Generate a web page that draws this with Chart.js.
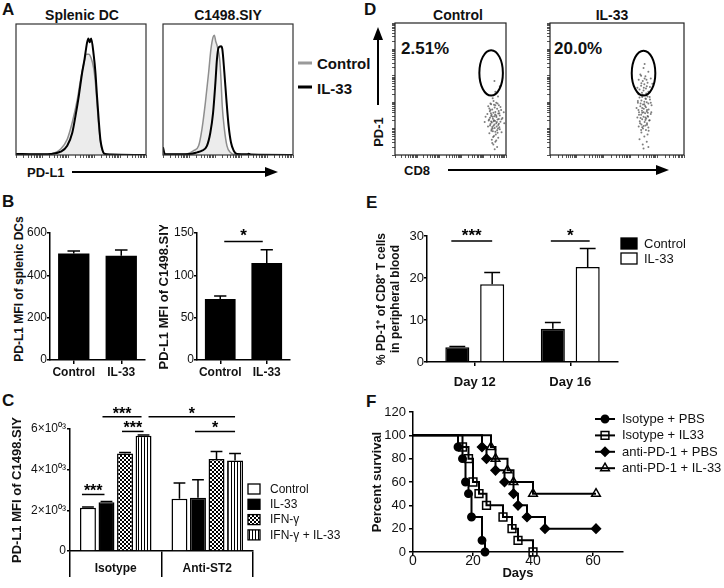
<!DOCTYPE html>
<html>
<head>
<meta charset="utf-8">
<script src="https://cdn.jsdelivr.net/npm/chart.js@4.4.1/dist/chart.umd.min.js"></script>
<style>
  body { margin: 0; background: #fff; }
  #fig { position: relative; width: 724px; height: 588px; overflow: hidden; font-family: "Liberation Sans", Arial, sans-serif; color: #111; }
  #fig canvas { position: absolute; }
  .t { position: absolute; white-space: nowrap; line-height: 1; }
</style>
</head>
<body>
<div id="fig">
  <svg width="724" height="588" style="position:absolute;left:0;top:0">
    <line x1="72" y1="172" x2="266" y2="172" stroke="#000" stroke-width="2"/>
    <polygon points="265,167 278,172 265,177" fill="#000"/>
    <line x1="448" y1="170" x2="657" y2="170" stroke="#000" stroke-width="2"/>
    <polygon points="656,165 669,170 656,175" fill="#000"/>
    <line x1="378" y1="105" x2="378" y2="39" stroke="#000" stroke-width="2"/>
    <polygon points="373,40 378,27 383,40" fill="#000"/>
    <rect x="298" y="61.5" width="14" height="3" fill="#9a9a9a"/>
    <rect x="298" y="85.5" width="14" height="3" fill="#000"/>
  </svg>
</div>
<script>
// ======================= DATA =========================
// A: PD-L1 histograms (x = channel 0-100, y = % of max)
const hDcCtrlX = [0, 24, 29.3, 34.4, 39.4, 43.3, 47.1, 49.6, 52.2, 54.2, 56, 57.8, 59.8, 61.1, 62.3, 63.6, 64.9, 66.2, 67.9, 72.5, 100];
const hDcCtrlY = [0.5, 0.5, 1.5, 4.5, 12, 25, 42, 57, 70, 77, 77, 74, 66, 55, 40, 23, 10, 4, 1, 0.3, 0];
const hDcIl33X = [0, 14, 26.7, 34.4, 39.4, 43.3, 45.8, 48.3, 50.9, 52.7, 54.7, 55.7, 56.7, 57.8, 59.8, 61.1, 62.3, 63.6, 64.9, 66.2, 67.9, 72.5, 100];
const hDcIl33Y = [0.8, 0.5, 0.8, 2.5, 7, 17, 30, 45, 63, 73, 86, 89, 86, 89, 76, 63, 45, 27, 12, 5, 1, 0.3, 0];
const hTuCtrlX = [0, 13.3, 18.5, 23.6, 27.4, 30, 32.6, 35.1, 36.9, 38.5, 39.5, 40.5, 42, 43.6, 44.6, 45.6, 47.2, 49.2, 51.8, 55.6, 100];
const hTuCtrlY = [0.5, 0.5, 0.8, 3.3, 7, 20, 40, 63, 81, 90, 91.5, 87, 82, 73, 58, 37, 20, 7, 2, 0.3, 0];
const hTuIl33X = [0, 1.5, 21, 26.2, 30, 33.8, 36.4, 38.5, 40.3, 41.5, 42.8, 44.6, 45.6, 47.2, 48.7, 50.5, 52.3, 54.4, 56.9, 64.6, 65.9, 67.7, 100];
const hTuIl33Y = [6, 0.5, 0.8, 2, 3.3, 7, 17, 32, 55, 73, 82, 83, 81, 63, 43, 22, 9.5, 3.3, 0.8, 0.5, 1, 0.3, 0];

// B: PD-L1 MFI
const bLabels = ['Control', 'IL-33'];
const bDcMfi = [503, 492];
const bDcSem = [12, 28];
const bTuMfi = [72, 114.6];
const bTuSem = [3.5, 15.5];
const bDcTicks = [0, 200, 400, 600];
const bTuTicks = [0, 50, 100, 150];

// C: PD-L1 MFI of C1498.SIY, isotype vs anti-ST2
const cGroups = ['Isotype', 'Anti-ST2'];
const cSeries = ['Control', 'IL-33', 'IFN-γ', 'IFN-γ + IL-33'];
const cControl = [2130, 2570];
const cIL33 = [2400, 2620];
const cIFNg = [4800, 4530];
const cIFNgIL33 = [5670, 4450];
const cControlSem = [30, 770];
const cIL33Sem = [40, 880];
const cIFNgSem = [40, 360];
const cIFNgIL33Sem = [30, 350];
const cTicks = [0, 2000, 4000, 6000];
const cTickLabels = ['0', '2×10⁰³', '4×10⁰³', '6×10⁰³'];

// D: PD-1 vs CD8 dot plots (log decades 0-5)
const dTitles = ['Control', 'IL-33'];
const dPercents = ['2.51%', '20.0%'];
const dotsCtrl = [
  [4.44,2.05],[4.56,1.98],[4.33,1.92],[4.68,1.88],[4.20,1.85],[4.49,1.80],[4.60,1.75],[4.38,1.72],[4.78,1.70],[4.27,1.66],
  [4.52,1.63],[4.43,1.60],[4.65,1.57],[4.16,1.55],[4.35,1.52],[4.72,1.50],[4.48,1.47],[4.57,1.44],[4.28,1.41],[4.84,1.40],
  [4.41,1.37],[4.62,1.34],[4.22,1.31],[4.51,1.29],[4.75,1.26],[4.36,1.23],[4.56,1.20],[4.30,1.17],[4.65,1.14],[4.44,1.11],
  [4.19,1.08],[4.70,1.05],[4.49,1.02],[4.35,0.98],[4.60,0.94],[4.41,0.90],[4.80,0.86],[4.25,0.82],[4.54,0.78],[4.46,0.72],
  [4.65,0.65],[4.36,0.58],[4.52,0.50],[4.43,0.40],[4.60,0.30],[4.49,0.22],[4.40,2.15],[4.64,2.22],[4.52,2.40],[4.72,2.60],
  [4.48,2.80],[4.90,1.62],[4.08,1.45],[4.92,1.20],[4.04,1.25],[4.46,1.90],[4.67,1.67],[4.32,1.58],[4.51,1.53],[4.40,1.45],
  [4.68,1.36],[4.46,1.32],[4.33,1.27],[4.59,1.25],[4.48,1.16],[4.38,1.06],[4.64,1.00],[4.52,0.88],[4.30,1.70],[4.75,1.82],
  [4.30,1.95],[4.62,1.95],[4.52,1.88],[4.25,1.76],[4.70,1.58],[4.56,1.50],[4.33,1.48],[4.80,1.35],[4.24,1.34],[4.44,1.28],
  [4.68,1.18],[4.28,1.12],[4.58,1.08],[4.40,1.00],[4.72,0.98],[4.34,0.92],[4.62,0.84],[4.42,0.68],[4.56,0.55],[4.38,0.45]
];
const dotsIl33 = [
  [3.49,3.30],[3.67,3.15],[3.37,3.05],[3.56,2.98],[3.76,2.90],[3.31,2.85],[3.46,2.80],[3.64,2.74],[3.52,2.68],[3.40,2.62],
  [3.73,2.58],[3.58,2.52],[3.34,2.48],[3.49,2.44],[3.67,2.40],[3.43,2.36],[3.59,2.33],[3.26,2.55],[3.82,2.70],[3.53,3.45],
  [3.46,2.28],[3.64,2.22],[3.34,2.18],[3.56,2.14],[3.73,2.10],[3.41,2.06],[3.52,2.02],[3.28,1.98],[3.67,1.95],[3.47,1.91],
  [3.79,1.88],[3.37,1.85],[3.58,1.81],[3.23,1.78],[3.50,1.75],[3.68,1.72],[3.43,1.68],[3.61,1.65],[3.32,1.62],[3.55,1.58],
  [3.76,1.55],[3.40,1.52],[3.64,1.48],[3.49,1.45],[3.26,1.42],[3.59,1.38],[3.44,1.35],[3.70,1.31],[3.35,1.28],[3.53,1.25],
  [3.62,1.20],[3.41,1.16],[3.56,1.12],[3.31,1.08],[3.67,1.04],[3.47,1.00],[3.58,0.95],[3.41,0.85],[3.64,0.78],[3.52,0.70],
  [3.34,0.60],[3.61,0.50],[3.46,0.40],[3.67,0.30],[3.49,0.25],[3.53,2.90],[3.41,2.72],[3.61,2.60],[3.50,2.55],[3.44,2.20],
  [3.61,2.00],[3.38,1.95],[3.55,1.86],[3.44,1.78],[3.62,1.70],[3.49,1.62],[3.38,1.40],[3.56,1.33],[3.49,1.10],[3.65,1.60],
  [3.30,2.30],[3.72,2.20],[3.58,2.12],[3.28,2.05],[3.76,1.98],[3.52,1.92],[3.30,1.70],[3.78,1.62],[3.44,1.60],[3.66,1.45],
  [3.32,1.52],[3.56,1.42],[3.72,1.32],[3.36,1.20],[3.62,1.15],[3.44,1.05],[3.68,0.92],[3.40,0.95],[3.60,2.85],[3.40,3.00]
];
const gateCtrl = { cx: 4.33, cy: 3.11, rx: 0.53, ry: 0.86 };
const gateIl33 = { cx: 3.49, cy: 3.10, rx: 0.44, ry: 0.85 };

// E: % PD-1+ of CD8+ T cells
const eLabels = ['Day 12', 'Day 16'];
const eControl = [3.5, 7.9];
const eControlSem = [0.2, 1.5];
const eIL33 = [18.5, 22.6];
const eIL33Sem = [2.8, 4.4];
const eTicks = [0, 10, 20, 30];

// F: survival
const fIsoPbsDays = [0, 15, 16.5, 17.5, 18.5, 19.5, 23, 24];
const fIsoPbsPct = [100, 90, 80, 60, 50, 30, 10, 0];
const fIsoIl33Days = [0, 16.5, 18.5, 20, 22, 24.5, 30, 33, 35, 40];
const fIsoIl33Pct = [100, 90, 80, 60, 50, 40, 30, 20, 10, 0];
const fPd1PbsDays = [0, 23, 24.5, 27.5, 30.5, 33.5, 35, 38, 44, 61];
const fPd1PbsPct = [100, 90, 80, 70, 60, 50, 40, 30, 20, 20];
const fPd1Il33Days = [0, 26, 27.5, 31.5, 33.5, 40, 61];
const fPd1Il33Pct = [100, 90, 80, 70, 60, 50, 50];
const fXTicks = [0, 20, 40, 60];
const fYTicks = [0, 20, 40, 60, 80, 100, 120];

// ======================= UTIL =========================
const fig = document.getElementById('fig');
const FONT = '"Liberation Sans", Arial, sans-serif';
Chart.defaults.font.family = FONT;
Chart.defaults.color = '#111';

const base = {
  animation: false, responsive: false, devicePixelRatio: 1,
  plugins: { legend: { display: false }, tooltip: { enabled: false } }
};

function makeCanvas(x, y, w, h) {
  const c = document.createElement('canvas');
  c.width = w; c.height = h;
  c.style.left = x + 'px'; c.style.top = y + 'px';
  c.style.width = w + 'px'; c.style.height = h + 'px';
  fig.appendChild(c);
  return c;
}

function addText(str, x, y, o = {}) {
  const d = document.createElement('div');
  d.className = 't';
  d.textContent = str;
  d.style.left = x + 'px'; d.style.top = y + 'px';
  d.style.fontSize = (o.size || 13) + 'px';
  d.style.fontWeight = o.bold === false ? 'normal' : 'bold';
  let tf = o.center ? 'translate(-50%,-50%)' : 'translate(0,-50%)';
  if (o.rotate) tf += ' rotate(' + o.rotate + 'deg)';
  d.style.transform = tf;
  fig.appendChild(d);
}

function logTicks(decades, span) {
  const out = [];
  for (let d = 0; d < decades; d++)
    for (let m = 1; m <= 9; m++) out.push(d * span + span * Math.log10(m));
  out.push(decades * span);
  return out;
}

function pts(xs, ys) { return xs.map((x, i) => ({ x, y: ys[i] })); }

// ================== AXES ==================
function yAxis(o) {
  return {
    type: 'linear', min: o.min, max: o.max,
    afterFit: s => { s.width = o.width; },
    afterBuildTicks: s => { s.ticks = o.ticks.map(v => ({ value: v })); },
    border: { display: true, color: '#000', width: 1.5 },
    grid: { drawOnChartArea: false, color: '#000', tickLength: o.tickLength ?? 3, lineWidth: 1.5 },
    ticks: { font: { size: o.fontSize || 12 }, color: '#111', padding: o.pad ?? 0,
             callback: v => o.labels ? o.labels[o.ticks.indexOf(v)] : String(v) },
    title: { display: !!o.title, text: o.title, color: '#111',
             font: { size: o.titleSize || 13, weight: 'bold' }, padding: { top: o.titlePad || 0, bottom: 0 } }
  };
}

function xCat(o) {
  return {
    type: 'category', offset: true,
    afterFit: s => { s.height = o.height; },
    border: { display: true, color: '#000', width: 1.5 },
    grid: { drawOnChartArea: false, color: '#000', tickLength: o.tickLength ?? 4, offset: o.gridOffset ?? false, lineWidth: 1.5 },
    ticks: { font: { size: o.fontSize || 12, weight: 'bold' }, color: '#111', padding: o.pad ?? 2, maxRotation: 0, autoSkip: false }
  };
}

function flowAxis(max, ticks, size, show) {
  return {
    type: 'linear', min: 0, max, display: show,
    afterFit: s => { if (s.isHorizontal()) s.height = size; else s.width = size; },
    afterBuildTicks: s => { s.ticks = ticks.map(v => ({ value: v })); },
    border: { display: false },
    grid: { drawOnChartArea: false, color: '#555', tickLength: 3, lineWidth: 1 },
    ticks: { display: false }
  };
}

// ================== PLUGINS ==================
function framePlugin(color) {
  return { id: 'frame', afterDraw(chart) {
    const { ctx, chartArea: a } = chart;
    ctx.save(); ctx.strokeStyle = color; ctx.lineWidth = 1.2;
    ctx.strokeRect(a.left, a.top, a.right - a.left, a.bottom - a.top);
    ctx.restore();
  } };
}

function errPlugin(sems, capFrac) {
  return { id: 'err', afterDatasetsDraw(chart) {
    const { ctx } = chart, ys = chart.scales.y;
    ctx.save(); ctx.strokeStyle = '#000'; ctx.lineWidth = 1.5;
    sems.forEach((errs, di) => {
      chart.getDatasetMeta(di).data.forEach((bar, i) => {
        const v = chart.data.datasets[di].data[i];
        const top = ys.getPixelForValue(v + errs[i]);
        const cap = bar.width * capFrac;
        ctx.beginPath();
        ctx.moveTo(bar.x, bar.y); ctx.lineTo(bar.x, top);
        ctx.moveTo(bar.x - cap, top); ctx.lineTo(bar.x + cap, top);
        ctx.stroke();
      });
    });
    ctx.restore();
  } };
}

function sigPlugin(items, size, ty) {
  return { id: 'sig', afterDraw(chart) {
    const { ctx } = chart, ys = chart.scales.y;
    ctx.save(); ctx.strokeStyle = '#000'; ctx.fillStyle = '#000'; ctx.lineWidth = 1.5;
    ctx.font = 'bold ' + size + 'px ' + FONT; ctx.textAlign = 'center'; ctx.textBaseline = 'alphabetic';
    items.forEach(s => {
      const a = chart.getDatasetMeta(s.a[0]).data[s.a[1]];
      const b = chart.getDatasetMeta(s.b[0]).data[s.b[1]];
      const x1 = a.x + (s.dx1 || 0), x2 = b.x + (s.dx2 || 0), y = ys.getPixelForValue(s.v);
      ctx.beginPath(); ctx.moveTo(x1, y); ctx.lineTo(x2, y); ctx.stroke();
      ctx.fillText(s.text, (x1 + x2) / 2, y + ty);
    });
    ctx.restore();
  } };
}

function boxLegend(x, y0, step, w, h, tx, size) {
  return { id: 'boxLegend', afterDraw(chart) {
    const { ctx } = chart;
    ctx.save();
    chart.data.datasets.forEach((ds, i) => {
      const y = y0 + i * step;
      ctx.fillStyle = ds.backgroundColor; ctx.fillRect(x, y, w, h);
      ctx.strokeStyle = '#000'; ctx.lineWidth = 1.3; ctx.strokeRect(x, y, w, h);
      ctx.fillStyle = '#111'; ctx.font = size + 'px ' + FONT; ctx.textBaseline = 'middle';
      ctx.fillText(ds.label, tx, y + h / 2 + 0.5);
    });
    ctx.restore();
  } };
}

function gatePlugin(g) {
  return { id: 'gate', afterDatasetsDraw(chart) {
    const { ctx, scales: { x, y } } = chart;
    const cx = x.getPixelForValue(g.cx), cy = y.getPixelForValue(g.cy);
    const rx = Math.abs(x.getPixelForValue(g.cx + g.rx) - cx);
    const ry = Math.abs(y.getPixelForValue(g.cy + g.ry) - cy);
    ctx.save(); ctx.strokeStyle = '#000'; ctx.lineWidth = 2;
    ctx.beginPath(); ctx.ellipse(cx, cy, rx, ry, 0, 0, Math.PI * 2); ctx.stroke();
    ctx.restore();
  } };
}

function survLegend(x0, x1, y0, step, tx) {
  return { id: 'survLegend', afterDraw(chart) {
    const { ctx } = chart;
    ctx.save();
    chart.data.datasets.forEach((ds, i) => {
      const y = y0 + i * step;
      ctx.strokeStyle = '#000'; ctx.lineWidth = 2;
      ctx.beginPath(); ctx.moveTo(x0, y); ctx.lineTo(x1, y); ctx.stroke();
      ctx.fillStyle = ds.pointBackgroundColor; ctx.lineWidth = 1.5;
      Chart.helpers.drawPoint(ctx, { pointStyle: ds.pointStyle, radius: ds.markR, borderWidth: 1.5, rotation: 0 }, (x0 + x1) / 2, y);
      ctx.fillStyle = '#111'; ctx.font = '13px ' + FONT; ctx.textBaseline = 'middle';
      ctx.fillText(ds.label, tx, y + 0.5);
    });
    ctx.restore();
  } };
}

// patterns for panel C
function makePattern(w, h, draw) {
  const t = document.createElement('canvas');
  t.width = w; t.height = h;
  const g = t.getContext('2d');
  g.fillStyle = '#fff'; g.fillRect(0, 0, w, h);
  g.fillStyle = '#000'; draw(g);
  return g.createPattern(t, 'repeat');
}
const checker = makePattern(4, 4, g => { g.fillRect(0, 0, 2, 2); g.fillRect(2, 2, 2, 2); });
const stripes = makePattern(3, 3, g => { g.fillRect(0, 0, 1, 3); });

// ================== TEXT / LABELS ==================
addText('A', 2, 9, { size: 17 });
addText('B', 2, 201, { size: 17 });
addText('C', 2, 400, { size: 17 });
addText('D', 364, 9, { size: 17 });
addText('E', 366, 202, { size: 17 });
addText('F', 366, 401, { size: 17 });

addText('Splenic DC', 82, 15, { size: 14, center: true });
addText('C1498.SIY', 228, 15, { size: 14, center: true });
addText('Control', 317, 63, { size: 15 });
addText('IL-33', 317, 88, { size: 15 });
addText('PD-L1', 27, 172, { size: 13 });

addText(dTitles[0], 458, 15, { size: 14, center: true });
addText(dTitles[1], 612, 15, { size: 14, center: true });
addText(dPercents[0], 401, 48, { size: 17 });
addText(dPercents[1], 554, 48, { size: 17 });
addText('PD-1', 378, 132, { size: 13, center: true, rotate: -90 });
addText('CD8', 404, 170, { size: 13 });

addText('PD-L1 MFI of splenic DCs', 19, 289, { size: 12, center: true, rotate: -90 });

// ================== A: HISTOGRAMS ==================
const aTicks = logTicks(5, 20);
function histChart(x, ctrlX, ctrlY, il33X, il33Y) {
  return new Chart(makeCanvas(x, 18, 142, 146), {
    type: 'line',
    data: { datasets: [
      { label: 'IL-33', data: pts(il33X, il33Y), borderColor: '#000', borderWidth: 2, pointRadius: 0,
        fill: false, order: 0, cubicInterpolationMode: 'monotone' },
      { label: 'Control', data: pts(ctrlX, ctrlY), borderColor: '#8e8e8e', borderWidth: 1.5, pointRadius: 0,
        backgroundColor: '#ececec', fill: 'origin', order: 1, cubicInterpolationMode: 'monotone' }
    ] },
    options: { ...base, layout: { padding: { left: 6, top: 6, right: 6, bottom: 4 } },
      scales: { x: flowAxis(100, aTicks, 5, true), y: { display: false, min: 0, max: 100 } } },
    plugins: [framePlugin('#333')]
  });
}
histChart(10, hDcCtrlX, hDcCtrlY, hDcIl33X, hDcIl33Y);
histChart(157, hTuCtrlX, hTuCtrlY, hTuIl33X, hTuIl33Y);

// ================== B: BARS ==================
new Chart(makeCanvas(0, 225, 150, 162), {
  type: 'bar',
  data: { labels: bLabels, datasets: [{ data: bDcMfi, backgroundColor: '#000', barPercentage: 0.66, categoryPercentage: 1 }] },
  options: { ...base, layout: { padding: { left: 0, top: 8, right: 5, bottom: 0 } },
    scales: { x: xCat({ height: 27, pad: 1.5 }),
              y: yAxis({ min: 0, max: 600, ticks: bDcTicks, width: 50 }) } },
  plugins: [errPlugin([bDcSem], 0.2)]
});

new Chart(makeCanvas(150, 225, 145, 162), {
  type: 'bar',
  data: { labels: bLabels, datasets: [{ data: bTuMfi, backgroundColor: '#000', barPercentage: 0.66, categoryPercentage: 1 }] },
  options: { ...base, layout: { padding: { left: 0, top: 8, right: 5, bottom: 0 } },
    scales: { x: xCat({ height: 27, pad: 1.5 }),
              y: yAxis({ min: 0, max: 150, ticks: bTuTicks, width: 47, title: 'PD-L1 MFI of C1498.SIY', titlePad: 7 }) } },
  plugins: [errPlugin([bTuSem], 0.2), sigPlugin([{ a: [0, 0], b: [0, 1], v: 140, text: '*', dx1: 4, dx2: -4 }], 17, 0)]
});

// ================== C: GROUPED BARS ==================
const cFills = ['#fff', '#000', checker, stripes];
const cData = [cControl, cIL33, cIFNg, cIFNgIL33];
new Chart(makeCanvas(0, 395, 350, 193), {
  type: 'bar',
  data: { labels: cGroups, datasets: cSeries.map((s, i) => ({
    label: s, data: cData[i], backgroundColor: cFills[i], borderColor: '#000', borderWidth: 1.5,
    categoryPercentage: 0.81, barPercentage: 0.86 })) },
  options: { ...base, layout: { padding: { left: 0, top: 34, right: 97, bottom: 7 } },
    scales: { x: xCat({ height: 30, tickLength: 26, gridOffset: true, pad: -16 }),
              y: yAxis({ min: 0, max: 6000, ticks: cTicks, labels: cTickLabels, width: 70, pad: 1,
                         title: 'PD-L1 MFI of C1498.SIY', titlePad: 10 }) } },
  plugins: [
    errPlugin([cControlSem, cIL33Sem, cIFNgSem, cIFNgIL33Sem], 0.37),
    sigPlugin([
      { a: [0, 0], b: [1, 0], v: 2780, text: '***', dx1: -6, dx2: -2 },
      { a: [1, 0], b: [3, 0], v: 6600, text: '***', dx1: -4, dx2: -2 },
      { a: [2, 0], b: [3, 0], v: 5880, text: '***', dx1: -3, dx2: 0 },
      { a: [3, 0], b: [3, 1], v: 6600, text: '*', dx1: 5, dx2: 0 },
      { a: [1, 1], b: [3, 1], v: 5880, text: '*', dx1: -3, dx2: 0 }
    ], 16, 2),
    boxLegend(248, 89, 15.3, 12, 10, 270, 12)
  ]
});

// ================== D: DOT PLOTS ==================
const dTicks = logTicks(5, 1);
function dotChart(x, w, padR, dots, gate) {
  return new Chart(makeCanvas(x, 16, w, 146), {
    type: 'scatter',
    data: { datasets: [{ data: dots.map(p => ({ x: p[0], y: p[1] })), pointRadius: 1,
      backgroundColor: 'rgba(70,70,70,0.7)', borderWidth: 0 }] },
    options: { ...base, layout: { padding: { left: 2, top: 7, right: padR, bottom: 2 } },
      scales: { x: flowAxis(5, dTicks, 5, true), y: flowAxis(5, dTicks, 5, true) } },
    plugins: [framePlugin('#222'), gatePlugin(gate)]
  });
}
dotChart(388, 124, 6, dotsCtrl, gateCtrl);
dotChart(543, 148, 7, dotsIl33, gateIl33);

// ================== E: GROUPED BARS ==================
new Chart(makeCanvas(362, 200, 362, 195), {
  type: 'bar',
  data: { labels: eLabels, datasets: [
    { label: 'Control', data: eControl, backgroundColor: '#000', borderColor: '#000', borderWidth: 1.5,
      categoryPercentage: 0.73, barPercentage: 0.69 },
    { label: 'IL-33', data: eIL33, backgroundColor: '#fff', borderColor: '#000', borderWidth: 1.5,
      categoryPercentage: 0.73, barPercentage: 0.69 }
  ] },
  options: { ...base, layout: { padding: { left: 0, top: 36, right: 106, bottom: 3 } },
    scales: { x: xCat({ height: 30, pad: 9, fontSize: 13 }),
              y: yAxis({ min: 0, max: 30, ticks: eTicks, width: 65, fontSize: 13,
                         title: ['% PD-1⁺ of CD8⁺ T cells', 'in peripheral blood'], titleSize: 12, titlePad: 12 }) } },
  plugins: [
    errPlugin([eControlSem, eIL33Sem], 0.33),
    sigPlugin([
      { a: [0, 0], b: [1, 0], v: 28.8, text: '***', dx1: -6, dx2: 0 },
      { a: [0, 1], b: [1, 1], v: 28.8, text: '*', dx1: -2, dx2: 2 }
    ], 17, 0),
    boxLegend(259, 38, 15, 16, 11, 282, 13)
  ]
});

// ================== F: SURVIVAL ==================
function kmSet(label, days, pct, style, filled, r) {
  return { label, data: pts(days, pct), stepped: 'before', borderColor: '#000', borderWidth: 2, fill: false,
    pointStyle: style, pointRadius: days.map((d, i) => i === 0 ? 0 : r), markR: r,
    pointBackgroundColor: filled ? '#000' : 'rgba(0,0,0,0)', pointBorderColor: '#000', pointBorderWidth: 1.5, clip: false };
}
new Chart(makeCanvas(362, 395, 362, 193), {
  type: 'line',
  data: { datasets: [
    kmSet('Isotype + PBS', fIsoPbsDays, fIsoPbsPct, 'circle', true, 3.7),
    kmSet('Isotype + IL33', fIsoIl33Days, fIsoIl33Pct, 'rect', false, 5.5),
    kmSet('anti-PD-1 + PBS', fPd1PbsDays, fPd1PbsPct, 'rectRot', true, 4.5),
    kmSet('anti-PD-1 + IL-33', fPd1Il33Days, fPd1Il33Pct, 'triangle', false, 5)
  ] },
  options: { ...base, layout: { padding: { left: 0, top: 17, right: 101, bottom: 6 } },
    scales: {
      x: { type: 'linear', min: 0, max: 70,
           afterFit: s => { s.height = 30; },
           afterBuildTicks: s => { s.ticks = fXTicks.map(v => ({ value: v })); },
           border: { display: true, color: '#000', width: 1.5 },
           grid: { drawOnChartArea: false, color: '#000', tickLength: 4, lineWidth: 1.5 },
           ticks: { font: { size: 14 }, color: '#111', padding: -3 },
           title: { display: true, text: 'Days', color: '#111', font: { size: 13, weight: 'bold' }, padding: { top: 0, bottom: 1 } } },
      y: yAxis({ min: 0, max: 120, ticks: fYTicks, width: 51, fontSize: 13, tickLength: 4, pad: 3,
                 title: 'Percent survival', titlePad: 8 })
    } },
  plugins: [survLegend(233, 253, 24, 16.4, 260)]
});
</script>
</body>
</html>
